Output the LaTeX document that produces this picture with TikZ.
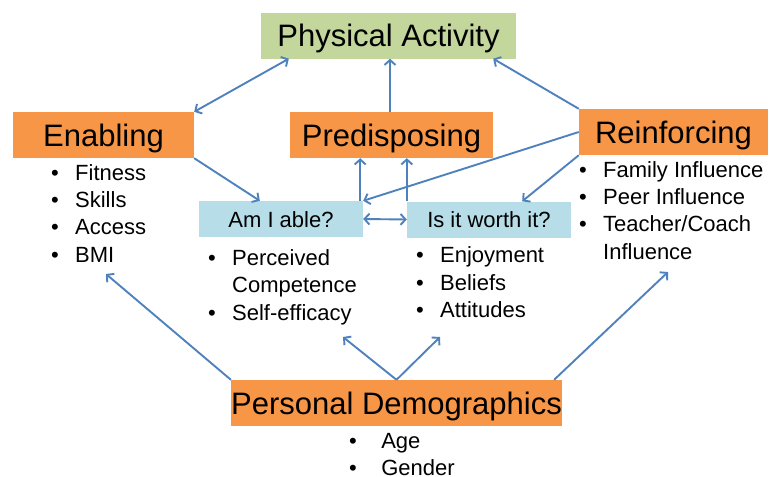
\documentclass[tikz,border=0pt]{standalone}
\usepackage{fontspec}
\setmainfont{Liberation Sans}
\usetikzlibrary{arrows.meta}

\definecolor{boxorange}{HTML}{F79646}
\definecolor{boxgreen}{HTML}{C3D69B}
\definecolor{boxblue}{HTML}{B7DEE8}
\definecolor{linkblue}{HTML}{4F81BD}

\newcommand{\bul}[1][24pt]{\makebox[#1][l]{\textbullet}}

\begin{document}
\begin{tikzpicture}[x=1pt, y=-1pt,
    bigbox/.style={inner sep=0pt, minimum height=46pt, text height=22pt,
      text depth=0pt, font=\fontsize{31}{37}\selectfont},
    smallbox/.style={fill=boxblue, inner sep=0pt, minimum height=36pt,
      minimum width=164pt, text height=16pt, text depth=0pt,
      font=\fontsize{22}{27}\selectfont},
    bullets/.style={anchor=base west, inner sep=0pt, align=left,
      font=\fontsize{22}{27.3}\selectfont},
    link/.style={linkblue, line width=1.9pt,
      -{Straight Barb[length=5pt,width=11pt]}},
    twolink/.style={linkblue, line width=1.9pt,
      {Straight Barb[length=5pt,width=11pt]}-{Straight Barb[length=5pt,width=11pt]}}]

    \useasboundingbox (0, 0) rectangle (772, 477);

    \node[bigbox, fill=boxgreen, minimum width=255pt] (activity) at (388.5, 35.5) {Physical Activity};
    \node[bigbox, fill=boxorange, minimum width=181pt] (enabling) at (103.5, 135) {Enabling};
    \node[bigbox, fill=boxorange, minimum width=203pt] (predisposing) at (391.5, 135) {Predisposing};
    \node[bigbox, fill=boxorange, minimum width=189pt] (reinforcing) at (673.5, 132) {Reinforcing};
    \node[smallbox] (able) at (281, 219) {Am I able?};
    \node[smallbox] (worth) at (489, 219.5) {Is it worth it?};
    \node[bigbox, fill=boxorange, minimum width=329pt] (demog) at (396.5, 403) {Personal Demographics};

    % lists sit on the baseline of their last line
    \node[bullets] (enablist) at (51, 262) {\bul Fitness\\ \bul Skills\\ \bul Access\\ \bul BMI};
    \node[bullets] (ablelist) at (208, 320) {\bul Perceived\\ \hspace*{24pt}Competence\\ \bul Self-efficacy};
    \node[bullets] (worthlist) at (416, 317.5) {\bul Enjoyment\\ \bul Beliefs\\ \bul Attitudes};
    \node[bullets] (reinlist) at (579, 259) {\bul Family Influence\\ \bul Peer Influence\\
      \bul Teacher/Coach\\ \hspace*{24pt}Influence};
    \node[bullets] (demoglist) at (349, 475.5) {\bul[26pt] Age\\ \bul[26pt] Gender};

    \coordinate (enabtip) at (106, 274);
    \coordinate (abletip) at (343, 337);
    \coordinate (worthtip) at (440, 337);
    \coordinate (reintip) at (668, 272);
    \coordinate (predfoot) at ([xshift=-1.5pt]predisposing.north);
    \coordinate (ablefoot) at ([xshift=-3pt]able.north east);

    \draw[twolink] (enabling.north east) -- ([xshift=28pt]activity.south west);
    \draw[link] (predfoot) -- (predfoot |- activity.south);
    \draw[link] (reinforcing.north west) -- ([xshift=-23pt]activity.south east);

    \draw[link] (enabling.south east) -- ([xshift=61pt]able.north west);
    \draw[link] (ablefoot) -- (ablefoot |- predisposing.south);
    \draw[link] (reinforcing.west) -- (able.north east);
    \draw[twolink] (able.east) -- (worth.west);
    \draw[link] (worth.north west) -- (worth.north west |- predisposing.south);
    \draw[link] (reinforcing.south west) -- ([xshift=-49pt]worth.north east);

    \draw[link] (demog.north west) -- (enabtip);
    \draw[link] (demog.north) -- (abletip);
    \draw[link] (demog.north) -- (worthtip);
    \draw[link] ([xshift=-8pt]demog.north east) -- (reintip);

\end{tikzpicture}
\end{document}
